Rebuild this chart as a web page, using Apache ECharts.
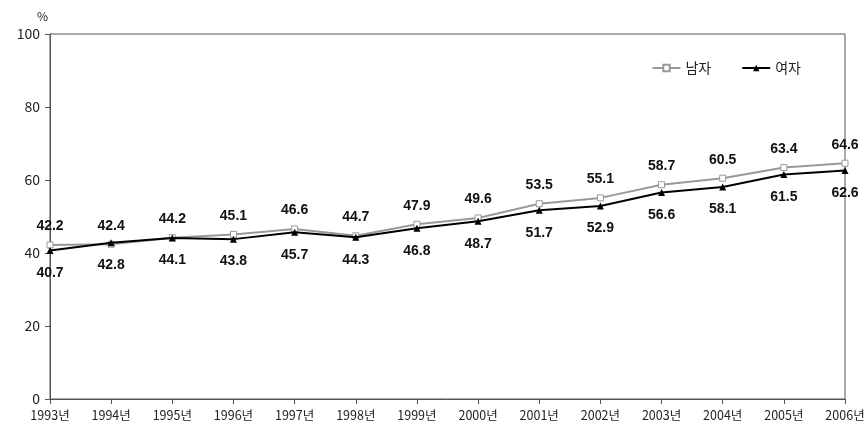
<!DOCTYPE html>
<html>
<head>
<meta charset="utf-8">
<script src="https://cdn.jsdelivr.net/npm/echarts@6/dist/echarts.min.js"></script>
<style>
  html, body { margin: 0; padding: 0; background: #fff; }
  #main { width: 868px; height: 433px; }
</style>
</head>
<body>
<div id="main"></div>
<script>
// 연도
var years = ['1993년','1994년','1995년','1996년','1997년','1998년','1999년','2000년','2001년','2002년','2003년','2004년','2005년','2006년'];
// 남자
var male = [42.2, 42.4, 44.2, 45.1, 46.6, 44.7, 47.9, 49.6, 53.5, 55.1, 58.7, 60.5, 63.4, 64.6];
// 여자
var female = [40.7, 42.8, 44.1, 43.8, 45.7, 44.3, 46.8, 48.7, 51.7, 52.9, 56.6, 58.1, 61.5, 62.6];

var font = "'Noto Sans CJK KR', 'Liberation Sans', sans-serif";
var myChart = echarts.init(document.getElementById('main'));
var option = {
    animation: false,
    textStyle: { fontFamily: font },
    grid: {
        left: 50, right: 23, top: 34, bottom: 34,
        show: true, borderColor: '#555', borderWidth: 1
    },
    legend: {
        right: 62, top: 56,
        itemWidth: 28, itemHeight: 8, itemGap: 30,
        textStyle: { fontSize: 14, color: '#222', fontFamily: font },
        data: ['남자', '여자']
    },
    xAxis: {
        type: 'category',
        boundaryGap: false,
        data: years,
        axisLine: { lineStyle: { color: '#555', width: 1 } },
        axisTick: { alignWithLabel: true, length: 5, lineStyle: { color: '#555' } },
        axisLabel: { fontSize: 12.5, color: '#222', margin: 10, interval: 0 },
        splitLine: { show: false }
    },
    yAxis: {
        type: 'value',
        min: 0, max: 100, interval: 20,
        name: '%',
        nameLocation: 'end',
        nameGap: 12,
        nameTextStyle: { fontSize: 12, color: '#222', align: 'right', padding: [0, 2, 0, 0] },
        axisLine: { show: true, lineStyle: { color: '#555', width: 1 } },
        axisTick: { show: true, length: 5, lineStyle: { color: '#555' } },
        axisLabel: { fontSize: 14, color: '#222', margin: 10 },
        splitLine: { show: false }
    },
    series: [
        {
            name: '남자',
            type: 'line',
            data: male,
            symbol: 'rect',
            symbolSize: 6,
            lineStyle: { color: '#999', width: 2 },
            itemStyle: { color: '#fff', borderColor: '#999', borderWidth: 1 },
            label: {
                show: true, position: 'top', distance: 8,
                fontSize: 14, fontWeight: 'bold', color: '#111',
                fontFamily: "'Liberation Sans', sans-serif"
            },
            z: 2
        },
        {
            name: '여자',
            type: 'line',
            data: female,
            symbol: 'triangle',
            symbolSize: 7,
            lineStyle: { color: '#000', width: 2 },
            itemStyle: { color: '#000' },
            label: {
                show: true, position: 'bottom', distance: 12,
                fontSize: 14, fontWeight: 'bold', color: '#111',
                fontFamily: "'Liberation Sans', sans-serif"
            },
            z: 3
        }
    ]
};
myChart.setOption(option);
</script>
</body>
</html>
